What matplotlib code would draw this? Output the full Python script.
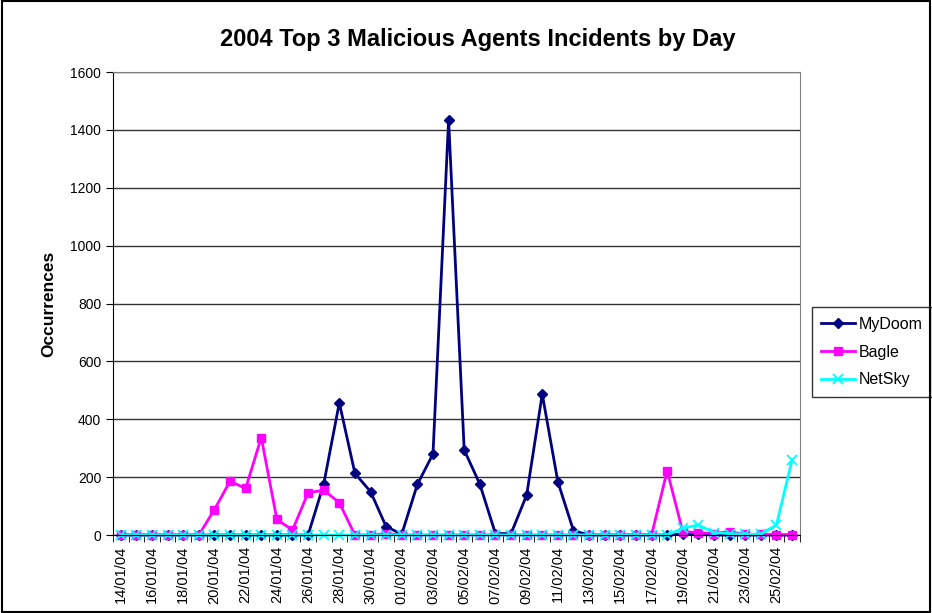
import numpy as np
import matplotlib
matplotlib.use("Agg")
import matplotlib.pyplot as plt
from matplotlib.ticker import FixedLocator, NullFormatter
import datetime as dt

plt.rcParams['font.family'] = ['Liberation Sans', 'DejaVu Sans']

# days 14/01/04 .. 26/02/04
start = dt.date(2004, 1, 14)
days = [start + dt.timedelta(days=i) for i in range(44)]
day_labels = [d.strftime("%d/%m/%y") for d in days]

mydoom = [0, 0, 0, 0, 0, 0, 0, 0, 0, 0, 0, 0, 0, 176, 457, 213, 150, 29, 3, 175,
          280, 1435, 294, 176, 5, 5, 138, 487, 184, 15, 0, 0, 0, 0, 0, 0,
          4, 2, 0, 0, 0, 0, 0, 0]
bagle = [0, 0, 0, 0, 0, 0, 88, 186, 161, 337, 54, 17, 146, 155, 112, 0, 0, 5, 0, 0,
         0, 0, 0, 0, 0, 0, 0, 0, 0, 0, 0, 0, 0, 0, 0, 222,
         12, 8, 5, 12, 2, 2, 1, 1]
netsky = [0, 0, 0, 0, 0, 0, 0, 0, 0, 0, 0, 0, 0, 0, 0, 0, 0, 0, 0, 0,
          0, 0, 0, 0, 0, 0, 0, 0, 0, 0, 0, 0, 0, 0, 0, 0,
          23, 35, 8, 5, 3, 3, 35, 259]

x = np.arange(len(days))

fig = plt.figure(figsize=(9.32, 6.13), dpi=100)
ax = fig.add_axes([0.1212, 0.1272, 0.737, 0.7553])

ax.plot(x, mydoom, color='#000080', marker='D', markersize=5, lw=2, label='MyDoom', clip_on=False)
ax.plot(x, bagle, color='#FF00FF', marker='s', markersize=6, lw=2, label='Bagle', clip_on=False)
ax.plot(x, netsky, color='#00FFFF', marker='x', markersize=7, mew=1.3, lw=2, label='NetSky', clip_on=False)

ax.set_xlim(-0.5, len(days) - 0.5)
ax.set_ylim(0, 1600)
ax.set_yticks(range(0, 1601, 200))
ax.yaxis.grid(True, color='#333333', lw=1)
ax.set_axisbelow(True)

ax.set_xticks(x[::2])
ax.set_xticklabels(day_labels[::2], rotation=90, fontsize=10.5)
ax.tick_params(axis='x', which='major', length=0, pad=8)
ax.xaxis.set_minor_locator(FixedLocator(np.arange(-0.5, len(days), 1)))
ax.xaxis.set_minor_formatter(NullFormatter())
ax.tick_params(axis='x', which='minor', length=5, direction='out', color='black')
ax.tick_params(axis='y', labelsize=10, length=5, color='black')

for s in ['top', 'right']:
    ax.spines[s].set_color('#808080')
for s in ['left', 'bottom']:
    ax.spines[s].set_color('black')

ax.set_ylabel('Occurrences', fontsize=12.5, fontweight='bold', labelpad=10)
fig.text(0.513, 0.935, '2004 Top 3 Malicious Agents Incidents by Day', ha='center', va='center',
         fontsize=17, fontweight='bold')

leg = ax.legend(loc='center left', bbox_to_anchor=(1.017, 0.395), frameon=True, fancybox=False,
                edgecolor='black', fontsize=11.5, handlelength=2.1, labelspacing=0.8,
                borderaxespad=0, handletextpad=0.25, borderpad=0.6)
leg.get_frame().set_linewidth(1)

# chart border
fig.patches.append(plt.Rectangle((0.002, 0.002), 0.996, 0.996, transform=fig.transFigure,
                                 fill=False, edgecolor='black', lw=1.5))

fig.savefig('out.png', dpi=100)
